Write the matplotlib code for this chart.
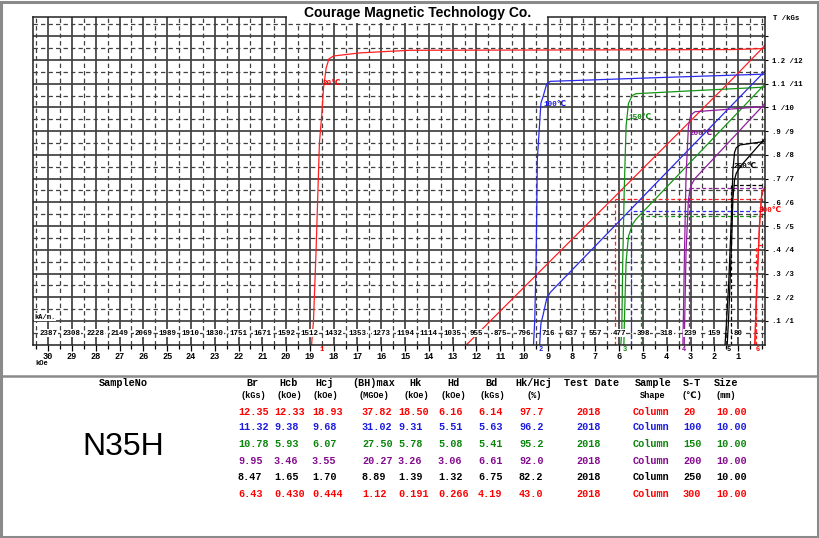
import matplotlib.pyplot as plt
from matplotlib.ticker import MultipleLocator
from matplotlib.patches import Rectangle
from matplotlib.lines import Line2D

# demagnetisation curves: H in kOe (drawn leftwards), J in kGs
temps = ['20', '100', '150', '200', '250', '300']
curve_colors = ['#ff1f1f', '#2a2ae8', '#169416', '#8f1f9c', '#000000', '#ff1f1f']
text_colors = ['#ff0000', '#1a1ae0', '#0a850a', '#850a8f', '#000000', '#ff0000']

h20 = [-0.12, 0, 1.2, 5, 10, 14.8, 16.9, 18.0, 18.2, 18.32, 18.43, 18.5, 18.6, 18.74, 18.85, 18.93]
j20 = [12.5, 12.48, 12.44, 12.43, 12.42, 12.41, 12.3, 12.17, 12.05, 11.65, 10.8, 9.7, 8.5, 4.0, 1.0, 0.0]
h100 = [-0.12, 0, 4, 8.9, 9.05, 9.2, 9.29, 9.44, 9.49, 9.55, 9.6]
j100 = [11.4, 11.4, 11.27, 11.1, 10.98, 10.45, 10.18, 7.8, 3.6, 1.0, 0.0]
h150 = [-0.12, 0, 3, 5.3, 5.45, 5.61, 5.71, 5.79, 5.85, 5.89, 5.93]
j150 = [10.86, 10.85, 10.7, 10.58, 10.5, 10.17, 9.2, 6.4, 3.5, 0.6, 0.0]
h200 = [-0.12, 0, 2.81, 2.99, 3.09, 3.19, 3.26, 3.32]
j200 = [10.04, 10.03, 9.82, 9.68, 9.19, 7.08, 3.57, 0.0]
h250 = [-0.12, 0, 0.92, 1.08, 1.15, 1.22, 1.27, 1.4, 1.5, 1.55]
j250 = [8.56, 8.55, 8.42, 8.3, 8.1, 7.36, 5.7, 2.5, 0.76, 0.0]
h300 = [-0.12, 0, 0.05, 0.1, 0.15, 0.24, 0.3, 0.32]
j300 = [6.52, 6.43, 5.8, 5.1, 4.0, 1.9, 0.05, 0.0]
j_curves = [(h20, j20), (h100, j100), (h150, j150), (h200, j200), (h250, j250), (h300, j300)]

# result table
br = ['12.35', '11.32', '10.78', '9.95', '8.47', '6.43']
hcb = ['12.33', '9.38', '5.93', '3.46', '1.65', '0.430']
hcj = ['18.93', '9.68', '6.07', '3.55', '1.70', '0.444']
bhmax = ['37.82', '31.02', '27.50', '20.27', '8.89', '1.12']
hk = ['18.50', '9.31', '5.78', '3.26', '1.39', '0.191']
hd = ['6.16', '5.51', '5.08', '3.06', '1.32', '0.266']
bd = ['6.14', '5.63', '5.41', '6.61', '6.75', '4.19']
hk_hcj = ['97.7', '96.2', '95.2', '92.0', '82.2', '43.0']
test_date = ['2018', '2018', '2018', '2018', '2018', '2018']
shape = ['Column', 'Column', 'Column', 'Column', 'Column', 'Column']
st = ['20', '100', '150', '200', '250', '300']
size = ['10.00', '10.00', '10.00', '10.00', '10.00', '10.00']

headers = ['Br', 'Hcb', 'Hcj', '(BH)max', 'Hk', 'Hd', 'Bd', 'Hk/Hcj', 'Test Date', 'Sample', 'S-T', 'Size']
units = ['(kGs)', '(kOe)', '(kOe)', '(MGOe)', '(kOe)', '(kOe)', '(kGs)', '(%)', '', 'Shape', '(℃)', '(mm)']

koe_ticks = list(range(1, 31))
kam_labels = ['80', '159', '239', '318', '398', '477', '557', '637', '716', '796',
              '875', '955', '1035', '1114', '1194', '1273', '1353', '1432', '1512', '1592',
              '1671', '1751', '1830', '1910', '1989', '2069', '2149', '2228', '2308', '2387']
b_ticks = list(range(1, 14))
b_labels = ['.1 /1', '.2 /2', '.3 /3', '.4 /4', '.5 /5', '.6 /6', '.7 /7', '.8 /8', '.9 /9',
            '1 /10', '1.1 /11', '1.2 /12', '']

# temperature label anchors (H, B)
temp_label_pos = [(18.45, 11.03), (9.2, 10.14), (5.62, 9.6), (3.06, 8.92), (1.21, 7.52), (0.12, 5.67)]

W, H = 820, 538
def fx(x):
    return x / W
def fy(y):
    return 1 - y / H

mono = ['Liberation Mono', 'DejaVu Sans']

fig = plt.figure(figsize=(W / 100, H / 100), dpi=100)
ax = fig.add_axes([fx(33), fy(344.7), (765 - 33) / W, (344.7 - 17.3) / H])
ax.set_xlim(30.64, -0.13)
ax.set_ylim(0, 13.8)

ax.xaxis.set_minor_locator(MultipleLocator(0.5))
ax.yaxis.set_minor_locator(MultipleLocator(0.5))
ax.set_xticks(koe_ticks)
ax.set_xticklabels([str(v) for v in koe_ticks])
ax.yaxis.tick_right()
ax.set_yticks(b_ticks)
ax.set_yticklabels(b_labels)
ax.grid(which='major', color='#404040', lw=1.25, ls='-')
ax.grid(which='minor', color='#404040', lw=0.9, ls=(0, (3.5, 2.5)))
ax.set_axisbelow(True)
ax.tick_params(axis='x', which='major', direction='out', length=4, width=0.9, pad=1.2, labelsize=6.2)
ax.tick_params(axis='x', which='minor', direction='out', length=3, width=0.9)
ax.tick_params(axis='y', which='major', direction='out', length=2.5, width=0.8, pad=2.5, labelsize=5.3)
ax.tick_params(axis='y', which='minor', length=0)
for lbl in ax.get_xticklabels() + ax.get_yticklabels():
    lbl.set_fontfamily(mono)
    lbl.set_fontweight('bold')
for s in ax.spines.values():
    s.set_color('#222222')
    s.set_linewidth(1.1)

# Bd / Hd markers
for i in range(6):
    c = curve_colors[i]
    ax.plot([0, float(hd[i])], [float(bd[i]), float(bd[i])], color=c, lw=0.9, ls=(0, (3, 2)))
    ax.plot([float(hd[i]), float(hd[i])], [0, float(bd[i])], color=c, lw=0.9, ls=(0, (3, 2)))

# J curves and B = J - H curves
for i, (hs, js) in enumerate(j_curves):
    c = curve_colors[i]
    ax.plot(hs, js, color=c, lw=0.9)
    ax.plot(hs, [j - h for h, j in zip(hs, js)], color=c, lw=0.9)
    lh, lb = temp_label_pos[i]
    ax.text(lh, lb, temps[i] + '℃', color=text_colors[i], fontsize=5.5, family=mono,
            fontweight='bold', ha='left', va='center', clip_on=False)
    ax.text(float(hk[i]), -0.22, str(i + 1), color=text_colors[i], fontsize=5, family=mono,
            fontweight='bold', ha='center', va='center', clip_on=False)

# kA/m row inside the plot
for v, lab in zip(koe_ticks, kam_labels):
    ax.text(v, 0.48, lab, ha='center', va='center', fontsize=5.4, family=mono, fontweight='bold',
            bbox=dict(facecolor='white', edgecolor='none', pad=0.3))
ax.text(30.58, 1.15, 'kA/m.', ha='left', va='center', fontsize=5, family=mono, fontweight='bold',
        bbox=dict(facecolor='white', edgecolor='none', pad=0.3))
ax.text(30.55, -0.8, 'kOe', ha='left', va='center', fontsize=5, family=mono, fontweight='bold',
        clip_on=False)
ax.text(-0.47, 13.73, 'T /kGs', ha='left', va='center', fontsize=5.3, family=mono, fontweight='bold',
        clip_on=False)

# title with white box over the grid
fig.patches.append(Rectangle((fx(287), fy(23)), (547 - 287) / W, 23 / H, transform=fig.transFigure,
                             facecolor='white', edgecolor='none', zorder=5))
fig.text(fx(418), fy(13), 'Courage Magnetic Technology Co.', ha='center', va='center', fontsize=10,
         fontweight='bold', family='Liberation Sans', zorder=6)

# frame and separator
fig.patches.append(Rectangle((fx(1.5), fy(536.5)), 817 / W, 535 / H, transform=fig.transFigure,
                             fill=False, edgecolor='#8a8a8a', lw=2.2, zorder=7))
fig.add_artist(Line2D([fx(2), fx(818)], [fy(375.5), fy(375.5)], color='#8a8a8a', lw=1.8))

# table
header_x = [253, 289, 325, 374, 416, 453, 492, 534, 592, 653, 692, 726]
col_x = [238, 274, 312, 362, 398, 438, 478, 519, 576, 633, 683, 716]
row_y = [411.7, 427.5, 444, 460.7, 477.3, 494]
fig.text(fx(123), fy(383), 'SampleNo', ha='center', va='center', fontsize=7.3, family=mono, fontweight='bold')
fig.text(fx(123), fy(447), 'N35H', ha='center', va='center', fontsize=23, family='Liberation Sans')
for hx, hd_txt, un in zip(header_x, headers, units):
    fig.text(fx(hx), fy(383), hd_txt, ha='center', va='center', fontsize=7.3, family=mono, fontweight='bold')
    if un:
        fig.text(fx(hx), fy(395), un, ha='center', va='center', fontsize=6.2, family=mono, fontweight='bold')
columns = [br, hcb, hcj, bhmax, hk, hd, bd, hk_hcj, test_date, shape, st, size]
for cx, col in zip(col_x, columns):
    for ry, val, c in zip(row_y, col, text_colors):
        fig.text(fx(cx), fy(ry), val, ha='left', va='center', fontsize=7.3, family=mono,
                 fontweight='bold', color=c)

fig.savefig('out.png', dpi=100)
